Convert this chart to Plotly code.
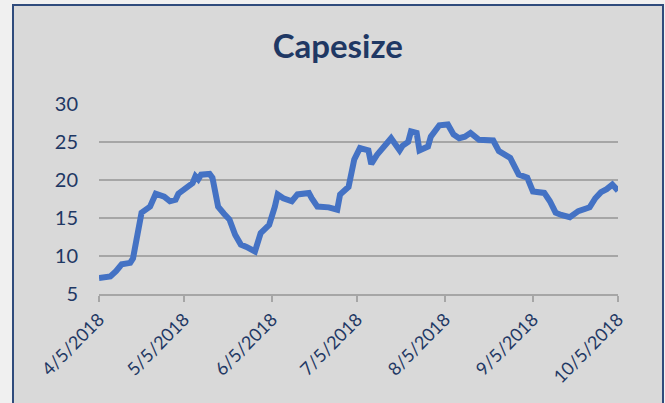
import plotly.graph_objects as go

# Capesize rate series
dates = [
    "2018-04-05", "2018-04-09", "2018-04-11", "2018-04-13", "2018-04-16", "2018-04-17",
    "2018-04-20", "2018-04-23", "2018-04-25", "2018-04-28", "2018-04-30", "2018-05-02",
    "2018-05-03", "2018-05-08", "2018-05-09", "2018-05-10", "2018-05-11", "2018-05-14",
    "2018-05-15", "2018-05-17", "2018-05-19", "2018-05-21", "2018-05-23", "2018-05-25",
    "2018-05-27", "2018-05-30", "2018-06-01", "2018-06-04", "2018-06-06", "2018-06-07",
    "2018-06-09", "2018-06-12", "2018-06-14", "2018-06-18", "2018-06-19", "2018-06-21",
    "2018-06-25", "2018-06-28", "2018-06-29", "2018-07-02", "2018-07-04", "2018-07-06",
    "2018-07-09", "2018-07-10", "2018-07-12", "2018-07-14", "2018-07-15", "2018-07-17",
    "2018-07-20", "2018-07-21", "2018-07-23", "2018-07-24", "2018-07-26", "2018-07-27",
    "2018-07-30", "2018-07-31", "2018-08-03", "2018-08-06", "2018-08-08", "2018-08-10",
    "2018-08-12", "2018-08-14", "2018-08-17", "2018-08-22", "2018-08-24", "2018-08-28",
    "2018-08-31", "2018-09-03", "2018-09-05", "2018-09-09", "2018-09-11", "2018-09-13",
    "2018-09-15", "2018-09-18", "2018-09-21", "2018-09-25", "2018-09-27", "2018-09-29",
    "2018-10-01", "2018-10-03", "2018-10-05",
]
values = [
    7.1, 7.3, 8.0, 8.9, 9.1, 9.7,
    15.7, 16.5, 18.2, 17.8, 17.2, 17.4,
    18.2, 19.6, 20.5, 20.1, 20.7, 20.8,
    20.3, 16.5, 15.6, 14.8, 12.8, 11.5,
    11.2, 10.6, 13.0, 14.1, 16.5, 18.1,
    17.6, 17.2, 18.1, 18.3, 17.6, 16.5,
    16.4, 16.1, 18.1, 19.1, 22.7, 24.2,
    23.9, 22.1, 23.3, 24.3, 24.8, 25.5,
    23.9, 24.5, 25.0, 26.4, 26.2, 23.9,
    24.4, 25.7, 27.2, 27.3, 26.0, 25.5,
    25.7, 26.2, 25.3, 25.2, 23.8, 22.9,
    20.7, 20.3, 18.5, 18.3, 17.2, 15.7,
    15.4, 15.1, 15.9, 16.4, 17.6, 18.4,
    18.8, 19.4, 18.6,
]

tick_dates = ["2018-04-05", "2018-05-05", "2018-06-05", "2018-07-05",
              "2018-08-05", "2018-09-05", "2018-10-05"]
tick_labels = ["4/5/2018", "5/5/2018", "6/5/2018", "7/5/2018",
               "8/5/2018", "9/5/2018", "10/5/2018"]

navy = "#1F3864"
font_family = "Lato, 'Open Sans', sans-serif"

fig = go.Figure()
fig.add_trace(go.Scatter(
    x=dates, y=values, mode="lines",
    line=dict(color="#4472C4", width=6),
    hoverinfo="x+y", showlegend=False,
))

# chart frame (grey panel with navy border)
fig.add_shape(type="rect", xref="paper", yref="paper",
              x0=-0.1657, x1=1.0867, y0=-0.60, y1=1.521,
              fillcolor="#D9D9D9", line=dict(color="#2F4B7C", width=2),
              layer="below")

fig.update_layout(
    width=665, height=403,
    margin=dict(l=99, r=47, t=104, b=109),
    paper_bgcolor="#F0F0F0",
    plot_bgcolor="rgba(0,0,0,0)",
    font=dict(family=font_family, color=navy, size=18),
    title=dict(text="<b>Capesize</b>", x=0.508, xanchor="center",
               y=0.885, yanchor="middle",
               font=dict(size=33, color=navy, family=font_family)),
    xaxis=dict(
        range=["2018-04-05", "2018-10-05"],
        tickvals=tick_dates, ticktext=tick_labels, tickangle=-45,
        showgrid=False, zeroline=False,
        showline=True, linecolor="#A6A6A6", linewidth=2,
        ticks="outside", ticklen=6, tickcolor="#A6A6A6", tickwidth=2,
        tickfont=dict(size=18, color=navy),
    ),
    yaxis=dict(
        range=[5, 30], tickvals=[5, 10, 15, 20, 25, 30],
        showgrid=True, gridcolor="#A6A6A6", gridwidth=2,
        zeroline=False, showline=False, ticks="",
        ticklabelstandoff=20,
        tickfont=dict(size=20, color=navy),
    ),
)

# drop the default page margin so the figure sits at the window's corner
fig.write_html("out.html", config={"displayModeBar": False},
               post_script="document.body.style.margin='0';")
